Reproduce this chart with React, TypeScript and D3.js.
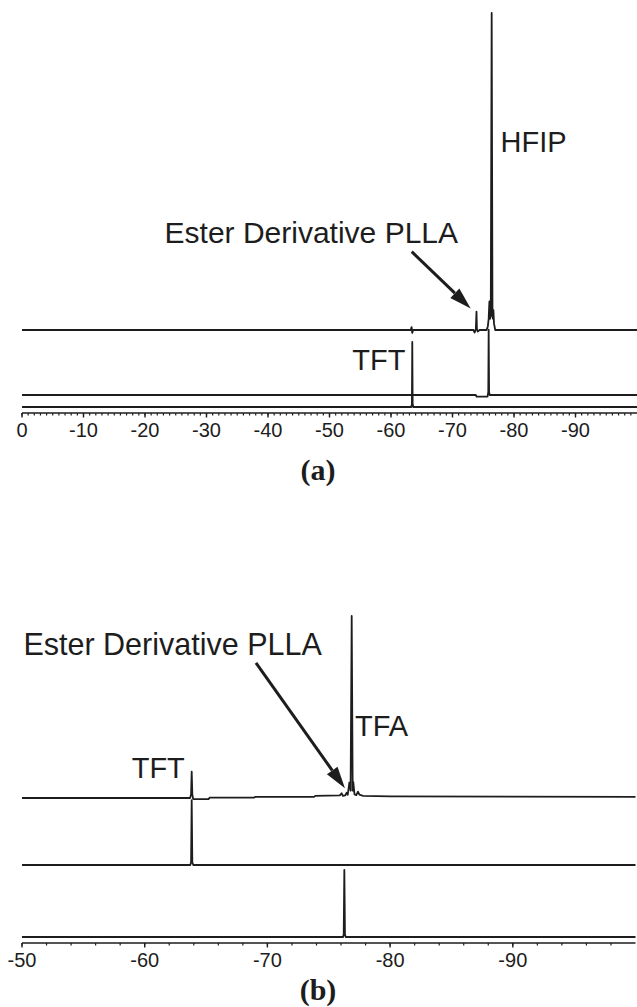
import React from "react";
import * as d3 from "d3";

// 19F NMR spectra, chemical shift (ppm) vs relative intensity.
// Panel (a): 0 … -100 ppm ; panel (b): -50 … -100 ppm.

type Pt = [number, number];

// (a) top trace: PLLA ester derivative in HFIP
const aEsterInHfip: Pt[] = [
  [0, 0], [-63.2, 0], [-63.35, 0.9], [-63.45, -0.9], [-63.6, 0],
  [-73.4, 0], [-73.6, -0.8], [-73.8, 0.3], [-73.9, 5.8], [-73.97, 0.3],
  [-74.1, -0.5], [-74.4, 0], [-75.55, 0], [-75.75, 1.2], [-75.88, 3.5],
  [-76.0, 9.0], [-76.1, 3.5], [-76.22, 4.5], [-76.37, 100], [-76.5, 4.5],
  [-76.58, 3.5], [-76.65, 6.3], [-76.75, 2.0], [-76.95, 0], [-100, 0],
];

// (a) middle trace: HFIP reference
const aHfipRef: Pt[] = [
  [0, 0], [-73.8, 0], [-73.9, -0.5], [-75.7, -0.5], [-75.82, 1],
  [-75.88, 20.6], [-75.95, 1], [-76.05, 0], [-100, 0],
];

// (a) bottom trace: TFT reference
const aTftRef: Pt[] = [
  [0, 0], [-63.3, 0], [-63.4, 1], [-63.46, 20.5], [-63.52, 1], [-63.62, 0], [-100, 0],
];

// (b) top trace: PLLA ester derivative in TFA with TFT
const bEsterInTfa: Pt[] = [
  [-50, 0], [-63.7, 0], [-63.78, 2], [-63.83, 14.5], [-63.88, 2], [-63.95, -0.6],
  [-65.2, -0.6], [-65.3, 0.2], [-68.9, 0.2], [-69.0, 0.6], [-73.8, 0.6], [-73.9, 1.2],
  [-75.9, 1.4], [-76.05, 2.6], [-76.15, 1.2], [-76.35, 1.5], [-76.46, 2.9], [-76.55, 1.8],
  [-76.68, 8.5], [-76.78, 4], [-76.87, 100], [-76.95, 4], [-77.0, 8.8], [-77.1, 2],
  [-77.25, 1.6], [-77.38, 3.5], [-77.5, 1.8], [-77.8, 1.2], [-80, 0.9], [-100, 0.6],
];

// (b) middle trace: TFT reference
const bTftRef: Pt[] = [
  [-50, 0], [-63.72, 0], [-63.78, 1.5], [-63.83, 35.7], [-63.88, 1.5], [-63.96, 0], [-100, 0],
];

// (b) bottom trace: TFA reference
const bTfaRef: Pt[] = [
  [-50, 0], [-76.17, 0], [-76.22, 1.5], [-76.27, 36.8], [-76.32, 1.5], [-76.38, 0], [-100, 0],
];

const aMajorTicks = [0, -10, -20, -30, -40, -50, -60, -70, -80, -90];
const bMajorTicks = [-50, -60, -70, -80, -90];

// Annotations in data coordinates: [ppm, intensity]
const aHfipLabel = { text: "HFIP", at: [-77.8, 56.2] as Pt };
const aEsterLabel = { text: "Ester Derivative PLLA", at: [-70.9, 27.4] as Pt };
const aEsterArrow = { from: [-63.37, 24.7] as Pt, to: [-72.96, 6.8] as Pt };
const aTftLabel = { text: "TFT", at: [-53.7, 11.7] as Pt };

const bEsterLabel = { text: "Ester Derivative PLLA", at: [-74.43, 78.6] as Pt };
const bEsterArrow = { from: [-69.07, 74.3] as Pt, to: [-76.32, 5.3] as Pt };
const bTftLabel = { text: "TFT", at: [-58.94, 10.8] as Pt };
const bTfaLabel = { text: "TFA", at: [-77.14, 34] as Pt };

const W = 637;
const H = 1007;
const INK = "#1d1d1d";
const SANS = "'Liberation Sans', Arial, Helvetica, sans-serif";
const SERIF = "'Liberation Serif', 'Times New Roman', serif";

const xA = d3.scaleLinear().domain([0, -100]).range([22, 637]);
const xB = d3.scaleLinear().domain([-50, -100]).range([22, 635.5]);

const yA1 = d3.scaleLinear().domain([0, 100]).range([330, 13]);
const yA2 = d3.scaleLinear().domain([0, 100]).range([395, 78]);
const yA3 = d3.scaleLinear().domain([0, 100]).range([407, 90]);

const yB1 = d3.scaleLinear().domain([0, 100]).range([798, 616]);
const yB2 = d3.scaleLinear().domain([0, 100]).range([865, 683]);
const yB3 = d3.scaleLinear().domain([0, 100]).range([937, 755]);

function Trace({ data, x, y }: { data: Pt[]; x: any; y: any }) {
  const line = d3
    .line<Pt>()
    .x((d) => x(d[0]))
    .y((d) => y(d[1]));
  return (
    <path
      d={line(data) || ""}
      fill="none"
      stroke={INK}
      strokeWidth={1.8}
      strokeLinejoin="round"
    />
  );
}

function Axis({
  x,
  y0,
  majors,
  minorStep,
  minorEnd,
}: {
  x: any;
  y0: number;
  majors: number[];
  minorStep: number;
  minorEnd: number;
}) {
  const [d0] = x.domain();
  const minors = d3.range(d0, minorEnd - 0.001, -minorStep);
  const [r0, r1] = x.range();
  return (
    <g>
      <line x1={r0} x2={r1} y1={y0} y2={y0} stroke={INK} strokeWidth={1.6} />
      {minors.map((t: number) => (
        <line key={"m" + t} x1={x(t)} x2={x(t)} y1={y0} y2={y0 + 2.5} stroke={INK} strokeWidth={1.2} />
      ))}
      {majors.map((t) => (
        <g key={"M" + t}>
          <line x1={x(t)} x2={x(t)} y1={y0} y2={y0 + 4.5} stroke={INK} strokeWidth={1.4} />
          <text
            x={x(t)}
            y={y0 + 24}
            textAnchor="middle"
            fontFamily={SANS}
            fontSize={20}
            fill={INK}
          >
            {`${t}`}
          </text>
        </g>
      ))}
    </g>
  );
}

function Arrow({ from, to, x, y }: { from: Pt; to: Pt; x: any; y: any }) {
  const x1 = x(from[0]);
  const y1 = y(from[1]);
  const x2 = x(to[0]);
  const y2 = y(to[1]);
  const ang = Math.atan2(y2 - y1, x2 - x1);
  const headLen = 22;
  const headHalf = 6.5;
  const bx = x2 - headLen * Math.cos(ang);
  const by = y2 - headLen * Math.sin(ang);
  const px = -Math.sin(ang) * headHalf;
  const py = Math.cos(ang) * headHalf;
  return (
    <g>
      <line x1={x1} y1={y1} x2={bx} y2={by} stroke={INK} strokeWidth={3} />
      <path
        d={`M${x2},${y2}L${bx + px},${by + py}L${bx - px},${by - py}Z`}
        fill={INK}
      />
    </g>
  );
}

function Label({
  text,
  at,
  x,
  y,
  anchor = "start",
  size = 29,
}: {
  text: string;
  at: Pt;
  x: any;
  y: any;
  anchor?: string;
  size?: number;
}) {
  return (
    <text
      x={x(at[0])}
      y={y(at[1])}
      textAnchor={anchor}
      fontFamily={SANS}
      fontSize={size}
      fill={INK}
    >
      {text}
    </text>
  );
}

export default function App() {
  return (
    <svg
      width={W}
      height={H}
      viewBox={`0 0 ${W} ${H}`}
      style={{ position: "absolute", left: 0, top: 0, background: "#fff" }}
    >
      <rect width={W} height={H} fill="#fff" />

      {/* Panel (a) */}
      <Trace data={aTftRef} x={xA} y={yA3} />
      <Trace data={aHfipRef} x={xA} y={yA2} />
      <Trace data={aEsterInHfip} x={xA} y={yA1} />
      <Axis x={xA} y0={413} majors={aMajorTicks} minorStep={1} minorEnd={-99} />
      <Label {...aHfipLabel} x={xA} y={yA1} />
      <Label {...aEsterLabel} x={xA} y={yA1} anchor="end" size={30} />
      <Arrow {...aEsterArrow} x={xA} y={yA1} />
      <Label {...aTftLabel} x={xA} y={yA3} />
      <text x={318} y={480} textAnchor="middle" fontFamily={SERIF} fontWeight="bold" fontSize={30} fill={INK}>
        (a)
      </text>

      {/* Panel (b) */}
      <Trace data={bTfaRef} x={xB} y={yB3} />
      <Trace data={bTftRef} x={xB} y={yB2} />
      <Trace data={bEsterInTfa} x={xB} y={yB1} />
      <Axis x={xB} y0={943} majors={bMajorTicks} minorStep={2} minorEnd={-98} />
      <Label {...bEsterLabel} x={xB} y={yB1} anchor="end" size={30.5} />
      <Arrow {...bEsterArrow} x={xB} y={yB1} />
      <Label {...bTftLabel} x={xB} y={yB1} />
      <Label {...bTfaLabel} x={xB} y={yB1} />
      <text x={318} y={1000} textAnchor="middle" fontFamily={SERIF} fontWeight="bold" fontSize={30} fill={INK}>
        (b)
      </text>
    </svg>
  );
}
